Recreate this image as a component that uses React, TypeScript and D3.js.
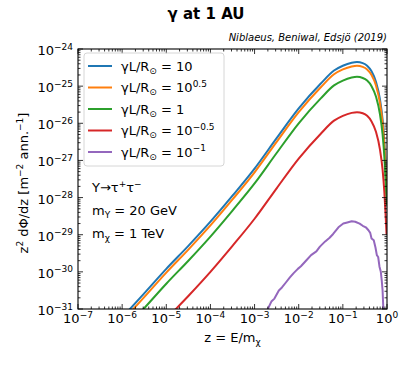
import React from "react";
import * as d3 from "d3";

const W = 413;
const H = 367;
const margin = { top: 49, right: 26, bottom: 58, left: 78 };
const plotW = W - margin.left - margin.right;
const plotH = H - margin.top - margin.bottom;

// log10(z) grid shared by the smooth curves
const logZ = [-5.9, -5.5, -5.0, -4.5, -4.0, -3.5, -3.0, -2.5, -2.0, -1.5, -1.2, -1.0, -0.8, -0.68, -0.55, -0.45, -0.35, -0.25, -0.16, -0.1, -0.06, -0.03, -0.01];

// log10 of z^2 dPhi/dz
const fluxG10 = [-31.1, -30.58, -29.92, -29.3, -28.65, -27.95, -27.22, -26.4, -25.6, -24.93, -24.58, -24.45, -24.37, -24.35, -24.38, -24.45, -24.6, -24.88, -25.35, -25.9, -26.5, -27.2, -27.8];
const fluxG05 = [-31.2, -30.68, -30.02, -29.4, -28.75, -28.05, -27.32, -26.5, -25.7, -25.03, -24.68, -24.55, -24.47, -24.45, -24.48, -24.55, -24.7, -24.98, -25.45, -26.0, -26.6, -27.3, -27.9];
const fluxG1 = [-31.5, -30.98, -30.32, -29.7, -29.05, -28.35, -27.62, -26.8, -26.0, -25.33, -24.98, -24.85, -24.77, -24.75, -24.78, -24.85, -25.0, -25.28, -25.75, -26.3, -26.9, -27.6, -28.2];
const fluxGm05 = [-32.45, -31.93, -31.27, -30.65, -30.0, -29.3, -28.57, -27.75, -26.95, -26.28, -25.93, -25.8, -25.72, -25.7, -25.73, -25.8, -25.95, -26.23, -26.7, -27.25, -27.85, -28.5, -29.0];

// noisy (monte carlo) curve for gamma L/R = 10^-1
const logZPurple = [-2.72, -2.62, -2.55, -2.45, -2.38, -2.3, -2.2, -2.12, -2.02, -1.95, -1.82, -1.72, -1.6, -1.52, -1.4, -1.3, -1.22, -1.1, -0.99, -0.9, -0.8, -0.72, -0.62, -0.55, -0.48, -0.42, -0.38, -0.35, -0.3, -0.26, -0.23, -0.2, -0.17, -0.14, -0.12, -0.1, -0.09, -0.08];
const fluxGm1 = [-31.05, -30.8, -30.72, -30.5, -30.42, -30.3, -30.15, -30.04, -29.92, -29.85, -29.68, -29.55, -29.45, -29.32, -29.18, -29.08, -28.98, -28.8, -28.7, -28.67, -28.64, -28.65, -28.7, -28.76, -28.8, -28.88, -28.95, -29.1, -29.15, -29.35, -29.55, -29.6, -29.86, -30.0, -30.22, -30.5, -30.8, -31.05];

const colors = ["#1f77b4", "#ff7f0e", "#2ca02c", "#d62728", "#9467bd"];
const legendExp = ["", "0.5", "", "\u22120.5", "\u22121"];
const legendBase = ["10", "10", "1", "10", "10"];

const xExps = [-7, -6, -5, -4, -3, -2, -1, 0];
const yExps = [-31, -30, -29, -28, -27, -26, -25, -24];

const font = "'DejaVu Sans', sans-serif";

export default function App() {
  const x = d3.scaleLog().domain([1e-7, 1]).range([0, plotW]);
  const y = d3.scaleLog().domain([1e-31, 1e-24]).range([plotH, 0]);

  const line = d3
    .line<[number, number]>()
    .x((d) => x(Math.pow(10, d[0])))
    .y((d) => y(Math.pow(10, d[1])))
    .curve(d3.curveMonotoneX);

  const series = [fluxG10, fluxG05, fluxG1, fluxGm05].map((f) =>
    logZ.map((z, i) => [z, f[i]] as [number, number])
  );
  const purple = logZPurple.map((z, i) => [z, fluxGm1[i]] as [number, number]);

  // minor ticks
  const xMinor: number[] = [];
  for (let e = -7; e < 0; e++) for (let k = 2; k <= 9; k++) xMinor.push(k * Math.pow(10, e));
  const yMinor: number[] = [];
  for (let e = -31; e < -24; e++) for (let k = 2; k <= 9; k++) yMinor.push(k * Math.pow(10, e));

  const major = 5;
  const minor = 2.5;

  return (
    <svg width={W} height={H} style={{ position: "absolute", left: 0, top: 0, background: "#fff" }} fontFamily={font}>
      <text x={206} y={19} textAnchor="middle" fontSize={15} fontWeight="bold">
        γ at 1 AU
      </text>
      <text x={387} y={41} textAnchor="end" fontSize={10} fontStyle="italic">
        Niblaeus, Beniwal, Edsjö (2019)
      </text>

      <g transform={`translate(${margin.left},${margin.top})`}>
        <defs>
          <clipPath id="plotclip">
            <rect x={0} y={0} width={plotW} height={plotH} />
          </clipPath>
        </defs>

        <g clipPath="url(#plotclip)" fill="none" strokeWidth={2} strokeLinejoin="round">
          {series.map((s, i) => (
            <path key={i} d={line(s) || ""} stroke={colors[i]} />
          ))}
          <path d={d3.line<[number, number]>().x((d) => x(Math.pow(10, d[0]))).y((d) => y(Math.pow(10, d[1])))(purple) || ""} stroke={colors[4]} />
        </g>

        {/* ticks, inward on all sides */}
        <g stroke="#000" strokeWidth={0.8}>
          {xMinor.map((v, i) => (
            <g key={"xm" + i}>
              <line x1={x(v)} x2={x(v)} y1={plotH} y2={plotH - minor} />
              <line x1={x(v)} x2={x(v)} y1={0} y2={minor} />
            </g>
          ))}
          {xExps.map((e) => (
            <g key={"xM" + e}>
              <line x1={x(Math.pow(10, e))} x2={x(Math.pow(10, e))} y1={plotH} y2={plotH - major} />
              <line x1={x(Math.pow(10, e))} x2={x(Math.pow(10, e))} y1={0} y2={major} />
            </g>
          ))}
          {yMinor.map((v, i) => (
            <g key={"ym" + i}>
              <line x1={0} x2={minor} y1={y(v)} y2={y(v)} />
              <line x1={plotW} x2={plotW - minor} y1={y(v)} y2={y(v)} />
            </g>
          ))}
          {yExps.map((e) => (
            <g key={"yM" + e}>
              <line x1={0} x2={major} y1={y(Math.pow(10, e))} y2={y(Math.pow(10, e))} />
              <line x1={plotW} x2={plotW - major} y1={y(Math.pow(10, e))} y2={y(Math.pow(10, e))} />
            </g>
          ))}
        </g>

        <rect x={0} y={0} width={plotW} height={plotH} fill="none" stroke="#000" strokeWidth={1.1} />

        {/* tick labels */}
        {xExps.map((e) => (
          <text key={"xl" + e} x={x(Math.pow(10, e))} y={plotH + 14} textAnchor="middle" fontSize={13}>
            10
            <tspan fontSize={9} dy={-5.5}>
              {e < 0 ? "\u2212" + Math.abs(e) : String(e)}
            </tspan>
          </text>
        ))}
        {yExps.map((e) => (
          <text key={"yl" + e} x={-5} y={y(Math.pow(10, e)) + 6} textAnchor="end" fontSize={13}>
            10
            <tspan fontSize={9} dy={-5.5}>
              {"\u2212" + Math.abs(e)}
            </tspan>
          </text>
        ))}

        {/* legend */}
        <rect x={6} y={4} width={140} height={113} rx={3} fill="#fff" fillOpacity={0.8} stroke="#ccc" strokeWidth={0.8} />
        {colors.map((c, i) => {
          const ry = 17 + i * 21.5;
          return (
            <g key={"lg" + i}>
              <line x1={10} x2={34} y1={ry} y2={ry} stroke={c} strokeWidth={2} />
              <text x={43} y={ry + 4.5} fontSize={13}>
                γL/R
                <tspan fontSize={9} dy={3}>⊙</tspan>
                <tspan dy={-3}> = {legendBase[i]}</tspan>
                {legendExp[i] && (
                  <tspan fontSize={9} dy={-5.5}>
                    {legendExp[i]}
                  </tspan>
                )}
              </text>
            </g>
          );
        })}

        {/* annotation */}
        <text x={14} y={143} fontSize={13}>
          Υ→τ<tspan fontSize={9} dy={-5}>+</tspan>
          <tspan dy={5}>τ</tspan>
          <tspan fontSize={9} dy={-5}>−</tspan>
        </text>
        <text x={14} y={166} fontSize={13}>
          m<tspan fontSize={9} dy={3}>Υ</tspan>
          <tspan dy={-3}> = 20 GeV</tspan>
        </text>
        <text x={14} y={189} fontSize={13}>
          m<tspan fontSize={9} dy={3}>χ</tspan>
          <tspan dy={-3}> = 1 TeV</tspan>
        </text>

        {/* axis labels */}
        <text x={plotW / 2} y={plotH + 33} textAnchor="middle" fontSize={13}>
          z = E/m<tspan fontSize={9} dy={3}>χ</tspan>
        </text>
        <text transform={`translate(${-50},${plotH / 2 + 4}) rotate(-90)`} textAnchor="middle" fontSize={13}>
          z<tspan fontSize={9} dy={-5}>2</tspan>
          <tspan dy={5}> dΦ/dz [m</tspan>
          <tspan fontSize={9} dy={-5}>−2</tspan>
          <tspan dy={5}> ann.</tspan>
          <tspan fontSize={9} dy={-5}>−1</tspan>
          <tspan dy={5}>]</tspan>
        </text>
      </g>
    </svg>
  );
}
